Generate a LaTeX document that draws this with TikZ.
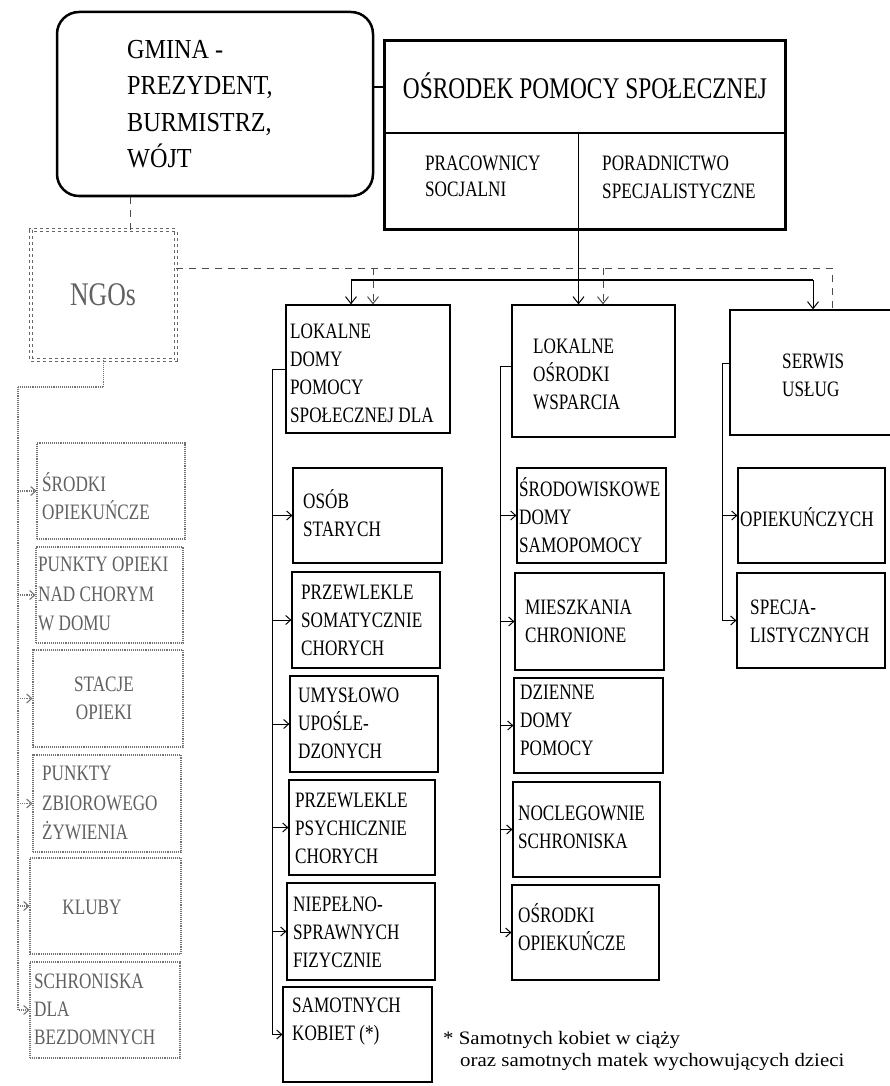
\documentclass[tikz,border=0pt]{standalone}
\usepackage{fontspec}
\usetikzlibrary{fit,arrows.meta}
\newfontfamily\boxfnt[FakeStretch=0.78]{Liberation Serif}
\newfontfamily\gminafnt[FakeStretch=0.88]{Liberation Serif}
\newfontfamily\notefnt[FakeStretch=1.1]{Liberation Serif}
\begin{document}
\begin{tikzpicture}[x=1pt,y=-1pt,
  bx/.style={draw, line width=1.2pt, inner sep=0pt},
  gbx/.style={draw=black!55, densely dotted, line width=1.1pt, inner sep=0pt},
  t/.style={font={\boxfnt\fontsize{22}{28}\selectfont}, align=left, inner sep=0pt},
  gt/.style={t, text=black!62},
  ln/.style={line width=1pt},
  gl/.style={densely dotted, draw=black!55, line width=1.1pt},
  arr/.style={-{Straight Barb[length=5pt,width=9pt]}},
  darr/.style={-{Straight Barb[length=7pt,width=11pt]}},
  dsh/.style={dash pattern=on 7pt off 6pt, line width=1pt, draw=black!70}]
\fill[white] (0,0) rectangle (890,1086);
\useasboundingbox (0,0) rectangle (890,1086);

% GMINA
\node[draw, line width=2.5pt, rounded corners=22pt, fit={(57,12)(373,196)}, inner sep=0pt] (gmina) {};
\node[font={\gminafnt\fontsize{27.5}{36.5}\selectfont}, align=left, anchor=west, inner sep=0pt] (gminaT) at (127,104) {GMINA -\\PREZYDENT,\\BURMISTRZ,\\WÓJT};

% OPS
\node[draw, line width=1.6pt, fit={(385,41)(785,133)}, inner sep=0pt] (opsT) {};
\node[draw, line width=1pt, fit={(385,133)(578,229)}, inner sep=0pt] (opsL) {};
\node[draw, line width=1pt, fit={(578,133)(785,229)}, inner sep=0pt] (opsR) {};
\draw[line width=3pt] (opsT.north west) rectangle (opsR.south east);
\node[t, font={\boxfnt\fontsize{30}{36}\selectfont}] (opsTt) at (585,86) {OŚRODEK POMOCY SPOŁECZNEJ};
\node[t, font={\boxfnt\fontsize{22}{26}\selectfont}, anchor=west] (opsLt) at (425,176) {PRACOWNICY\\SOCJALNI};
\node[t, anchor=west] (opsRt) at (602,177) {PORADNICTWO\\SPECJALISTYCZNE};
\draw[line width=1.2pt] (opsT.west) -- (opsT.west -| gmina.east);

% NGOs
\node[draw=black!60, dashed, double, double distance=2pt, line width=0.8pt, fit={(31,230)(176,360)}, inner sep=0pt] (ngo) {};
\node[font={\boxfnt\fontsize{33}{40}\selectfont}, text=black!62, inner sep=0pt] (ngoT) at (103,295) {NGOs};
\coordinate (gx) at (130,0);
\draw[dsh] (gmina.south -| gx) -- (ngo.north -| gx);

% NGO children
\node[gbx, fit={(37,443)(185,539)}] (g1) {};
\node[gt, anchor=west] at (42,496) {ŚRODKI\\OPIEKUŃCZE};
\node[gbx, fit={(36,547)(183,643)}] (g2) {};
\node[gt, anchor=west, font={\boxfnt\fontsize{22}{29.5}\selectfont}] at (38,594) {PUNKTY OPIEKI\\NAD CHORYM\\W DOMU};
\node[gbx, fit={(33,650)(183,747)}] (g3) {};
\node[gt, align=center] at (104,698) {STACJE\\OPIEKI};
\node[gbx, fit={(33,755)(181,852)}] (g4) {};
\node[gt, anchor=west, font={\boxfnt\fontsize{22}{29.5}\selectfont}] at (42,803) {PUNKTY\\ZBIOROWEGO\\ŻYWIENIA};
\node[gbx, fit={(30,858)(181,954)}] (g5) {};
\node[gt] at (92,907) {KLUBY};
\node[gbx, fit={(30,962)(180,1058)}] (g6) {};
\node[gt, anchor=west] at (34,1009) {SCHRONISKA\\DLA\\BEZDOMNYCH};
\coordinate (nl) at (18,387);
\draw[gl] (ngo.south) |- (nl);
\draw[gl, arr] (nl) |- (g6.west);
\foreach \g in {g1,g2,g3,g4,g5} \draw[gl, arr] (nl |- \g.west) -- (\g.west);

% LOKALNE DOMY
\node[bx, fit={(286,305)(450,433)}] (l1) {};
\node[t, anchor=west] at (290,373) {LOKALNE\\DOMY\\POMOCY\\SPOŁECZNEJ DLA};
\node[bx, fit={(293,468)(442,563)}] (a1) {};
\node[t, anchor=west] at (303,513) {OSÓB\\STARYCH};
\node[bx, fit={(292,572)(440,668)}] (a2) {};
\node[t, anchor=west] at (301,620) {PRZEWLEKLE\\SOMATYCZNIE\\CHORYCH};
\node[bx, fit={(290,676)(438,772)}] (a3) {};
\node[t, anchor=west] at (298,723) {UMYSŁOWO\\UPOŚLE-\\DZONYCH};
\node[bx, fit={(289,780)(435,875)}] (a4) {};
\node[t, anchor=west] at (295,828) {PRZEWLEKLE\\PSYCHICZNIE\\CHORYCH};
\node[bx, fit={(287,883)(435,980)}] (a5) {};
\node[t, anchor=west] at (293,932) {NIEPEŁNO-\\SPRAWNYCH\\FIZYCZNIE};
\node[bx, fit={(283,987)(432,1082)}] (a6) {};
\node[t, anchor=west] at (292,1022) {SAMOTNYCH\\KOBIET (*)};
\coordinate (ax) at (272,0);
\draw[ln] (l1.west) -- (l1.west -| ax);
\draw[ln, arr] (l1.west -| ax) |- (a6.west);
\foreach \a in {a1,a2,a3,a4,a5} \draw[ln, arr] (ax |- \a.west) -- (\a.west);

% LOKALNE OSRODKI WSPARCIA
\node[bx, fit={(512,305)(675,437)}] (l2) {};
\node[t, anchor=west] at (533,374) {LOKALNE\\OŚRODKI\\WSPARCIA};
\node[bx, fit={(517,468)(666,563)}] (b1) {};
\node[t, anchor=west] at (519,515) {ŚRODOWISKOWE\\DOMY\\SAMOPOMOCY};
\node[bx, fit={(515,573)(664,670)}] (b2) {};
\node[t, anchor=west] at (525,621) {MIESZKANIA\\CHRONIONE};
\node[bx, fit={(514,678)(663,773)}] (b3) {};
\node[t, anchor=west] at (520,720) {DZIENNE\\DOMY\\POMOCY};
\node[bx, fit={(513,782)(660,877)}] (b4) {};
\node[t, anchor=west] at (518,827) {NOCLEGOWNIE\\SCHRONISKA};
\node[bx, fit={(512,885)(659,980)}] (b5) {};
\node[t, anchor=west] at (518,927) {OŚRODKI\\OPIEKUŃCZE};
\coordinate (bxx) at (500,0);
\draw[ln] ([yshift=5pt]l2.west) -- ([yshift=5pt]l2.west -| bxx);
\draw[ln, arr] ([yshift=5pt]l2.west -| bxx) |- (b5.west);
\foreach \b in {b1,b2,b3,b4} \draw[ln, arr] (bxx |- \b.west) -- (\b.west);

% SERWIS USLUG
\begin{scope}
\clip (0,0) rectangle (890,1086);
\node[bx, fit={(730,310)(900,435)}] (s1) {};
\end{scope}
\node[t, anchor=west] at (782,375) {SERWIS\\USŁUG};
\node[bx, fit={(738,468)(885,563)}] (s2) {};
\node[t, anchor=west] at (740,517) {OPIEKUŃCZYCH};
\node[bx, fit={(737,573)(885,668)}] (s3) {};
\node[t, anchor=west] at (750,621) {SPECJA-\\LISTYCZNYCH};
\coordinate (sx) at (722,0);
\draw[ln] ([yshift=9pt]s1.west) -- ([yshift=9pt]s1.west -| sx);
\draw[ln, arr] ([yshift=9pt]s1.west -| sx) |- (s3.west);
\draw[ln, arr] (sx |- s2.west) -- (s2.west);

% top connectors
\coordinate (busL) at (351,280);
\coordinate (busR) at (813,280);
\draw[line width=1.4pt] (busL) -- (busR);
\draw[ln, darr] (busL) -- (busL |- l1.north);
\draw[ln, darr] (busR) -- (busR |- s1.north);
\draw[ln, darr] (opsL.south east) -- (opsL.south east |- l2.north);

% dashed NGO links
\coordinate (dR) at (832,268);
\coordinate (d1) at (373,268);
\coordinate (d2) at (603,268);
\draw[dsh] (ngo.east |- dR) -- (dR) -- (dR |- s1.north);
\draw[dsh, darr] (d1) -- (d1 |- l1.north);
\draw[dsh, darr] (d2) -- (d2 |- l2.north);

% footnote
\node[font={\notefnt\fontsize{19}{22}\selectfont}, align=left, anchor=west, inner sep=0pt] (fn) at (443,1051) {* Samotnych kobiet w ciąży\\\hspace*{17pt}oraz samotnych matek wychowujących dzieci};
\end{tikzpicture}
\end{document}
